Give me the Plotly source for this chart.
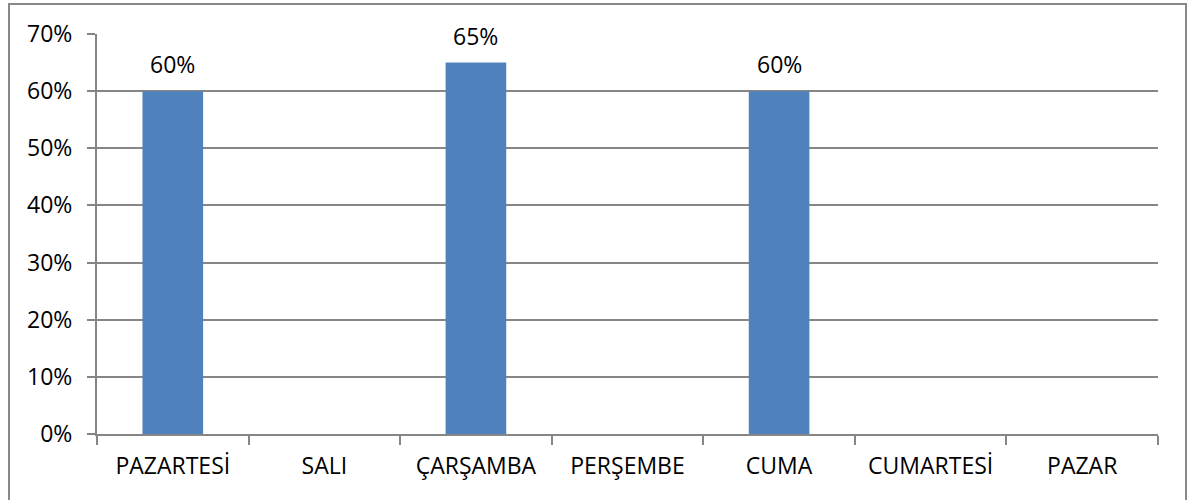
import plotly.graph_objects as go

categories = ["PAZARTESİ", "SALI", "ÇARŞAMBA", "PERŞEMBE", "CUMA", "CUMARTESİ", "PAZAR"]
values = [60, None, 65, None, 60, None, None]
y_ticks = [0, 10, 20, 30, 40, 50, 60, 70]

W, H = 1192, 500
L, R, T, B = 97, 34, 34, 66
pw, ph = W - L - R, H - T - B

FONT = dict(family="Open Sans, Liberation Sans, sans-serif", size=23, color="#000000")

fig = go.Figure()
fig.add_trace(go.Bar(
    x=categories,
    y=values,
    marker=dict(color="#4F81BD", line=dict(width=0)),
    hoverinfo="skip",
))

for c, v in zip(categories, values):
    if v is not None:
        fig.add_annotation(x=c, y=v, text=f"{v}%", showarrow=False,
                           yshift=27, font=FONT, xanchor="center", yanchor="middle")

# outer border
fig.add_shape(type="rect", xref="paper", yref="paper",
              x0=(9 - L) / pw, x1=(1186 - L) / pw,
              y0=-(H + 20 - (T + ph)) / ph, y1=(ph + (T - 4)) / ph,
              line=dict(color="#888888", width=2), fillcolor="rgba(0,0,0,0)", layer="below")

fig.update_layout(
    width=W, height=H,
    margin=dict(l=L, r=R, t=T, b=B, pad=0),
    paper_bgcolor="white", plot_bgcolor="white",
    bargap=0.6,
    showlegend=False,
    font=FONT,
    xaxis=dict(
        type="category",
        categoryorder="array", categoryarray=categories,
        showline=True, linecolor="#868686", linewidth=2,
        ticks="outside", tickson="boundaries", ticklen=9, tickwidth=2, tickcolor="#868686",
        showgrid=False, tickfont=FONT, fixedrange=True,
        ticklabelstandoff=10,
    ),
    yaxis=dict(
        range=[0, 70],
        tickvals=y_ticks,
        ticktext=[f"{t}%" for t in y_ticks],
        showline=True, linecolor="#868686", linewidth=2,
        ticks="outside", ticklen=8, tickwidth=2, tickcolor="#868686",
        showgrid=True, gridcolor="#868686", gridwidth=2,
        zeroline=False, tickfont=FONT, fixedrange=True,
        ticklabelstandoff=10,
    ),
)

fig.write_html("out.html")
